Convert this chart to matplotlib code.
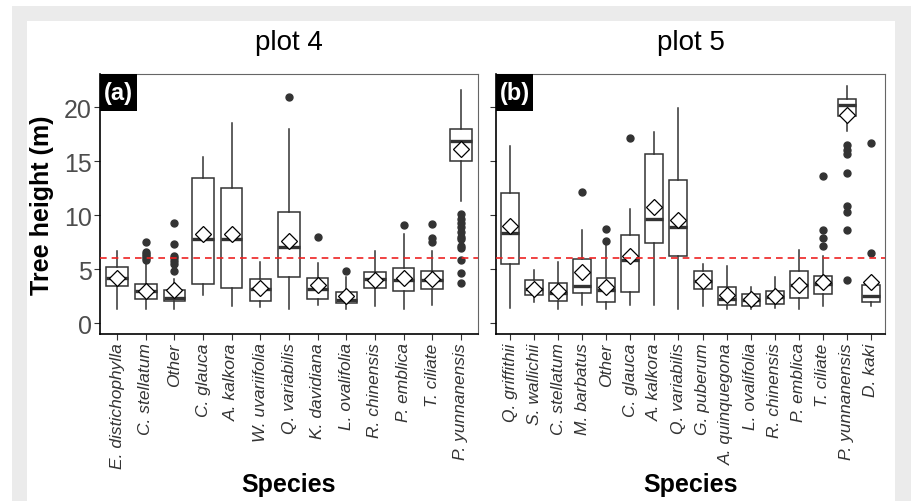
import matplotlib
matplotlib.use("Agg")
import matplotlib.pyplot as plt
from matplotlib.patches import Rectangle

plt.rcParams['font.family'] = ['Liberation Sans', 'DejaVu Sans']

# ---- plot 4 ----
species_a = ["E. distichophylla", "C. stellatum", "Other", "C. glauca", "A. kalkora",
             "W. uvariifolia", "Q. variabilis", "K. davidiana", "L. ovalifolia",
             "R. chinensis", "P. emblica", "T. ciliate", "P. yunnanensis"]
lo_a = [1.3, 1.3, 1.3, 2.6, 1.6, 1.5, 1.3, 1.7, 1.3, 1.6, 1.3, 1.7, 11.3]
q1_a = [3.47, 2.29, 2.07, 3.63, 3.31, 2.1, 4.28, 2.26, 1.86, 3.22, 2.94, 3.19, 15.0]
med_a = [4.21, 2.98, 2.38, 7.84, 7.8, 3.19, 7.04, 3.19, 2.17, 4.09, 4.05, 4.03, 16.93]
q3_a = [5.17, 3.68, 3.07, 13.45, 12.49, 4.06, 10.29, 4.19, 2.88, 4.74, 5.08, 4.8, 17.98]
hi_a = [6.66, 5.7, 4.12, 15.38, 18.6, 5.67, 17.98, 5.58, 4.24, 6.66, 8.28, 6.66, 21.58]
mean_a = [4.2, 3.0, 3.1, 8.3, 8.3, 3.25, 7.6, 3.56, 2.48, 3.97, 4.19, 4.1, 16.12]
out_a = [[], [7.5, 6.6, 6.4, 6.2, 6.0, 5.9], [9.3, 7.3, 6.2, 6.0, 5.8, 5.5, 4.8],
         [], [], [], [21.0], [8.0], [4.8], [], [9.1], [9.2, 7.9, 7.5],
         [10.1, 9.7, 9.3, 8.9, 8.5, 8.0, 7.8, 7.2, 7.0, 5.9, 4.7, 3.7]]

# ---- plot 5 ----
species_b = ["Q. griffithii", "S. wallichii", "C. stellatum", "M. barbatus", "Other",
             "C. glauca", "A. kalkora", "Q. variabilis", "G. puberum", "A. quinquegona",
             "L. ovalifolia", "R. chinensis", "P. emblica", "T. ciliate",
             "P. yunnanensis", "D. kaki"]
lo_b = [1.4, 2.0, 1.3, 1.7, 1.3, 1.7, 1.7, 1.3, 1.55, 1.3, 1.3, 1.4, 1.3, 1.55, 17.82, 1.55]
q1_b = [5.49, 2.6, 2.1, 2.79, 1.95, 2.85, 7.47, 6.2, 3.19, 1.7, 1.55, 1.8, 2.38, 2.7, 19.22, 2.0]
med_b = [8.37, 3.19, 2.79, 3.47, 3.1, 5.82, 9.7, 8.9, 3.93, 2.23, 2.17, 2.42, 3.56, 3.66, 20.24, 2.54]
q3_b = [12.09, 3.97, 3.72, 5.95, 4.19, 8.21, 15.66, 13.27, 4.84, 3.4, 2.7, 3.03, 4.8, 4.4, 20.77, 3.5]
hi_b = [16.43, 4.9, 5.67, 8.68, 7.28, 10.63, 17.77, 19.93, 5.49, 5.27, 3.35, 4.24, 6.75, 6.26, 21.95, 3.5]
mean_b = [8.99, 3.2, 2.94, 4.71, 3.4, 6.2, 10.79, 9.55, 3.9, 2.57, 2.2, 2.54, 3.55, 3.81, 19.31, 3.84]
out_b = [[], [], [], [12.2], [8.7, 7.6], [17.15], [], [], [], [], [], [], [],
         [13.64, 8.68, 7.9, 7.19],
         [16.5, 16.1, 15.7, 13.95, 10.85, 10.29, 8.68, 4.03],
         [16.68, 6.51]]

threshold = 6

fig = plt.figure(figsize=(9.11, 5.02), dpi=100)
fig.patch.set_facecolor('white')
W, H = 911, 502
fig.patches.append(Rectangle((12 / W, 0), 1 - 12 / W, 1 - 7 / H, transform=fig.transFigure,
                             facecolor='#ebebeb', edgecolor='none', zorder=-10))
fig.patches.append(Rectangle((27 / W, 0), (895 - 27) / W, 1 - 22 / H, transform=fig.transFigure,
                             facecolor='white', edgecolor='none', zorder=-9))

ax_a = fig.add_axes([100 / W, 1 - 335 / H, 378 / W, 260 / H])
ax_b = fig.add_axes([496 / W, 1 - 335 / H, 389 / W, 260 / H])

panels = [(ax_a, species_a, lo_a, q1_a, med_a, q3_a, hi_a, mean_a, out_a, "plot 4", "(a)", 378),
          (ax_b, species_b, lo_b, q1_b, med_b, q3_b, hi_b, mean_b, out_b, "plot 5", "(b)", 389)]

for ax, sp, lo, q1, med, q3, hi, mn, out, title, tag, wpx in panels:
    stats = []
    for i in range(len(sp)):
        stats.append(dict(whislo=lo[i], q1=q1[i], med=med[i], q3=q3[i], whishi=hi[i],
                          mean=mn[i], fliers=out[i], label=sp[i]))
    ax.bxp(stats, positions=range(1, len(sp) + 1), widths=0.75, showcaps=False,
           showmeans=True, patch_artist=True,
           boxprops=dict(facecolor='white', edgecolor='#333333', linewidth=1.1),
           whiskerprops=dict(color='#333333', linewidth=1.1),
           medianprops=dict(color='#333333', linewidth=2.4),
           flierprops=dict(marker='o', markerfacecolor='#333333', markeredgecolor='#333333',
                           markersize=5),
           meanprops=dict(marker='D', markerfacecolor='white', markeredgecolor='black',
                          markersize=8, markeredgewidth=0.9))
    ax.axhline(threshold, color='#ee2222', linestyle=(0, (4, 3)), linewidth=1.2, zorder=5)
    ax.set_xlim(0.4, len(sp) + 0.6)
    ax.set_ylim(-1.0, 23.1)
    ax.set_yticks([0, 5, 10, 15, 20])
    ax.set_xticks(range(1, len(sp) + 1))
    ax.set_xticklabels(sp, rotation=90, fontstyle='italic', fontsize=12.5, color='#333333')
    ax.tick_params(axis='both', direction='out', length=4, width=0.8, color='#333333', pad=2)
    ax.tick_params(axis='y', labelsize=18, labelcolor='#4d4d4d')
    for s in ['left', 'bottom']:
        ax.spines[s].set_color('black')
        ax.spines[s].set_linewidth(1.2)
    for s in ['top', 'right']:
        ax.spines[s].set_color('#666666')
        ax.spines[s].set_linewidth(0.8)
    ax.set_title(title, fontsize=20, pad=18)
    ax.set_xlabel("Species", fontsize=18, fontweight='bold')
    ax.xaxis.set_label_coords(0.5, (335 - 485) / 260)
    ax.xaxis.label.set_va('center')
    bw, bh = 37 / wpx, 37 / 260
    ax.add_patch(Rectangle((0, 1 - bh), bw, bh, transform=ax.transAxes, facecolor='black',
                           edgecolor='none', zorder=9, clip_on=False))
    ax.text(bw / 2, 1 - bh / 2, tag, transform=ax.transAxes, ha='center', va='center',
            color='white', fontsize=17, fontweight='bold', zorder=10)

ax_a.set_ylabel("Tree height (m)", fontsize=18, fontweight='bold')
ax_a.yaxis.set_label_coords((42 - 100) / 378, 0.5)
ax_a.yaxis.label.set_va('center')
ax_b.tick_params(axis='y', labelleft=False)

fig.savefig("out.png", dpi=100)
